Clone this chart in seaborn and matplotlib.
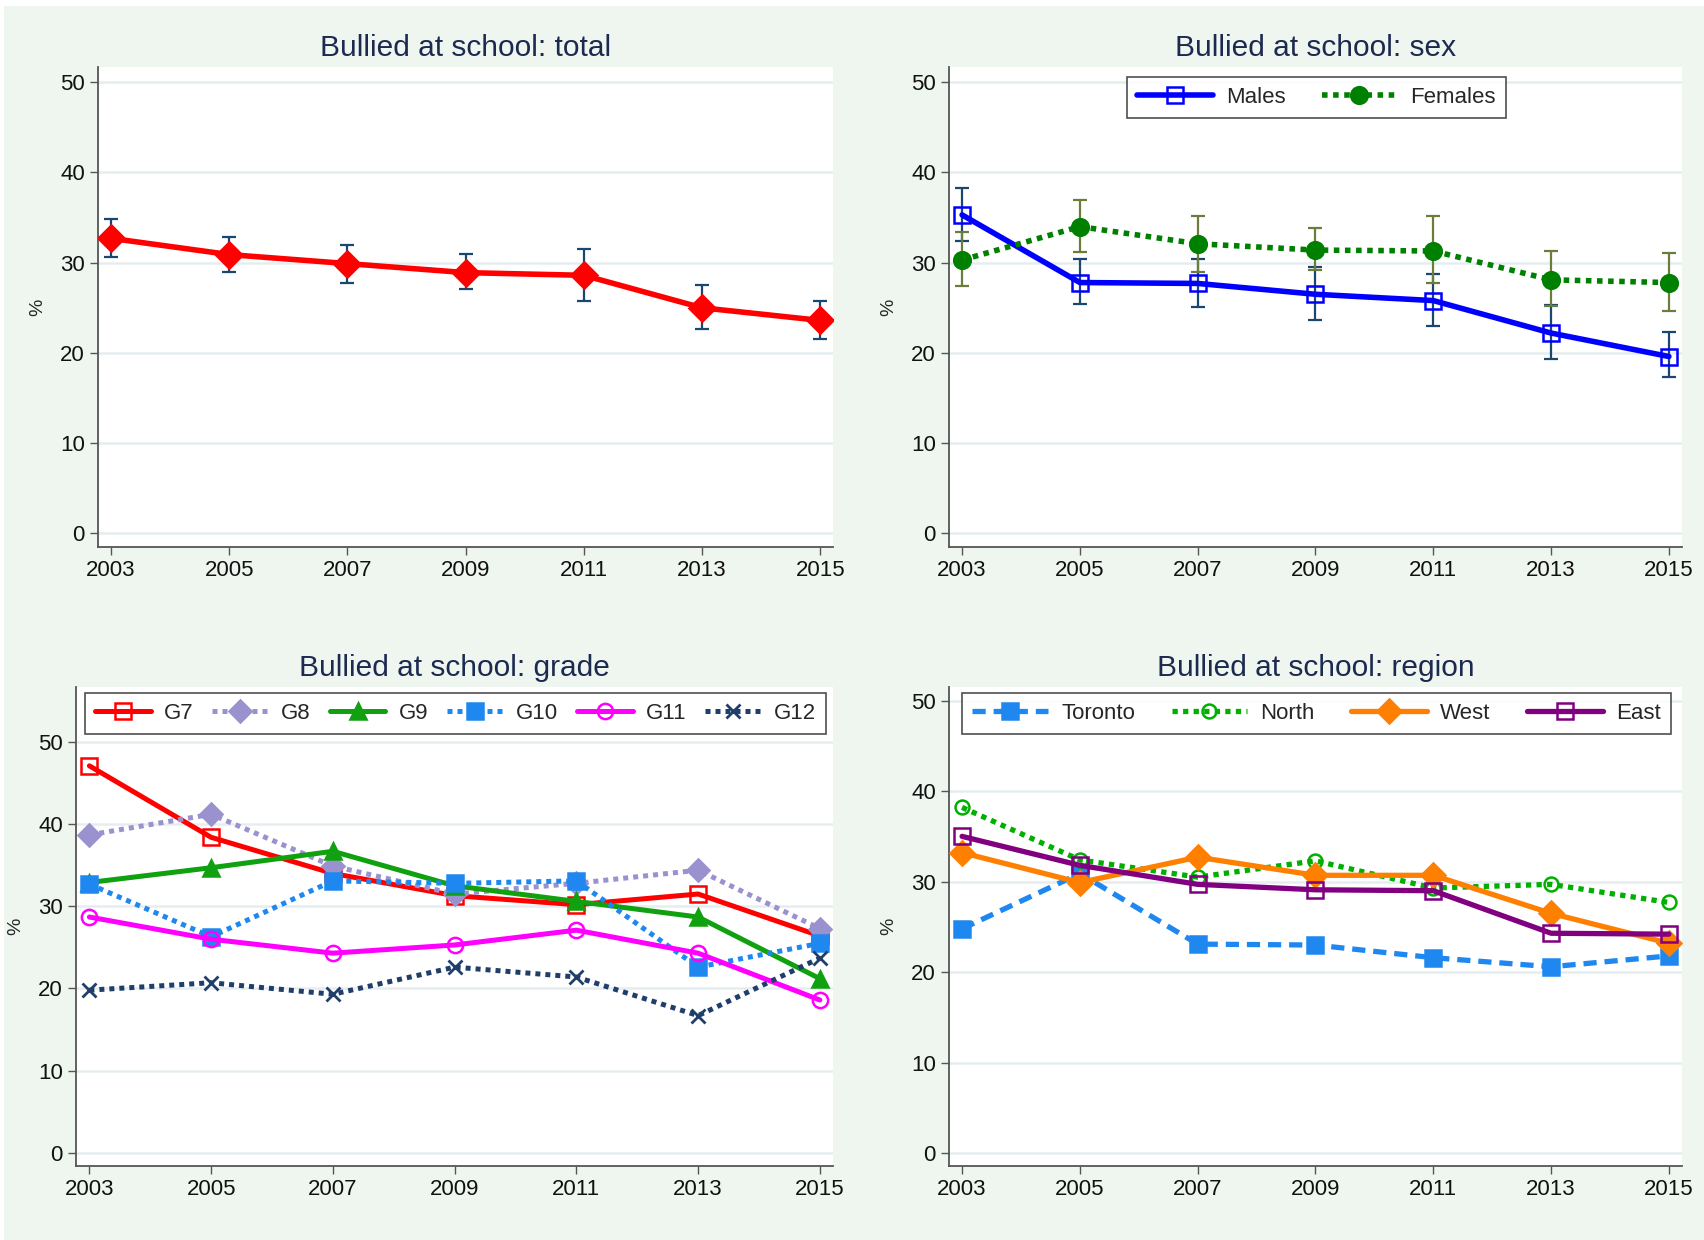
import numpy as np
import pandas as pd
import matplotlib.pyplot as plt
import seaborn as sns
from matplotlib.patches import Rectangle

years = [2003, 2005, 2007, 2009, 2011, 2013, 2015]

# total, with CI
total = [32.7, 30.9, 29.9, 28.9, 28.6, 25.0, 23.6]
total_lo = [30.6, 29.0, 27.8, 27.1, 25.8, 22.7, 21.5]
total_hi = [34.9, 32.8, 32.0, 31.0, 31.5, 27.5, 25.8]

# sex
males = [35.3, 27.8, 27.7, 26.5, 25.8, 22.2, 19.6]
males_lo = [32.4, 25.4, 25.1, 23.7, 23.0, 19.3, 17.3]
males_hi = [38.3, 30.4, 30.4, 29.5, 28.8, 25.3, 22.3]
females = [30.3, 34.0, 32.1, 31.4, 31.3, 28.1, 27.8]
females_lo = [27.4, 31.2, 29.0, 29.2, 27.7, 25.2, 24.7]
females_hi = [33.4, 37.0, 35.2, 33.8, 35.2, 31.3, 31.1]

# grade
g7 = [47.1, 38.4, 34.0, 31.3, 30.2, 31.5, 26.4]
g8 = [38.7, 41.2, 34.9, 31.5, 32.8, 34.4, 27.3]
g9 = [32.9, 34.7, 36.7, 32.5, 30.6, 28.7, 21.2]
g10 = [32.7, 26.3, 33.1, 32.8, 33.1, 22.6, 25.5]
g11 = [28.7, 26.0, 24.3, 25.3, 27.1, 24.3, 18.6]
g12 = [19.8, 20.7, 19.3, 22.6, 21.4, 16.7, 23.7]

# region
toronto = [24.8, 30.9, 23.1, 23.0, 21.6, 20.6, 21.8]
north = [38.2, 32.4, 30.5, 32.3, 29.3, 29.7, 27.7]
west = [33.2, 29.9, 32.7, 30.7, 30.7, 26.5, 23.2]
east = [35.0, 31.8, 29.7, 29.1, 29.0, 24.3, 24.2]

BG = '#eff6f0'
NAVY = '#1a476f'
OLIVE = '#6a7d3a'
TITLE_C = '#1c2a50'

sns.set_style("white")
plt.rcParams['font.family'] = ['Liberation Sans', 'DejaVu Sans']

fig = plt.figure(figsize=(17.04, 12.4), dpi=100, facecolor='white')
fig.patches.append(Rectangle((4 / 1704, 0), 1, 1 - 6 / 1240, transform=fig.transFigure,
                             facecolor=BG, edgecolor='none', zorder=-10))

ax_tl = fig.add_axes([0.0575, 0.559, 0.4315, 0.387])
ax_tr = fig.add_axes([0.557, 0.559, 0.430, 0.387])
ax_bl = fig.add_axes([0.0446, 0.0597, 0.4444, 0.3863])
ax_br = fig.add_axes([0.557, 0.0597, 0.430, 0.3863])


def series(ax, vals, color, ls, marker, ms, label=None, mfc=None, lw=4, mew=1.8):
    kw = dict(color=color, linestyle=ls, marker=marker, markersize=ms, linewidth=lw,
              markeredgecolor=color, markerfacecolor=mfc if mfc is not None else color,
              markeredgewidth=mew, zorder=3)
    if label:
        kw['label'] = label
    sns.lineplot(x=years, y=vals, ax=ax, **kw)


def ci(ax, vals, lo, hi, color):
    v = np.array(vals)
    ax.errorbar(years, v, yerr=[v - np.array(lo), np.array(hi) - v], fmt='none',
                ecolor=color, elinewidth=1.6, capsize=5, capthick=1.6, zorder=2,
                label='_nolegend_')


def style(ax, title, ylim):
    ax.set_facecolor('white')
    ax.set_xlim(2002.78, 2015.22)
    ax.set_ylim(*ylim)
    ax.set_xticks(years)
    ax.set_yticks([0, 10, 20, 30, 40, 50])
    ax.yaxis.grid(True, color='#e6edf1', linewidth=1.8, zorder=0)
    ax.set_axisbelow(True)
    for s in ['top', 'right']:
        ax.spines[s].set_visible(False)
    for s in ['left', 'bottom']:
        ax.spines[s].set_color('#555555')
        ax.spines[s].set_linewidth(1.3)
    ax.tick_params(axis='both', direction='out', length=6, width=1, color='#555555',
                   labelsize=16, labelcolor='#111111', left=True, bottom=True)
    ax.set_xlabel('')
    ax.set_ylabel('%', fontsize=14, labelpad=10)
    ax.set_title(title, fontsize=21.5, color=TITLE_C, pad=8)


def legend(ax, ncol, bbox, hl):
    lg = ax.legend(loc='upper left', bbox_to_anchor=bbox, mode='expand', ncol=ncol,
                   fontsize=16, frameon=True, fancybox=False, edgecolor='#222222',
                   handlelength=hl, borderpad=0.45, columnspacing=0.8, handletextpad=0.6,
                   borderaxespad=0)
    lg.get_frame().set_linewidth(1.2)
    return lg


# total
ci(ax_tl, total, total_lo, total_hi, NAVY)
series(ax_tl, total, '#ff0000', '-', 'D', 13)
style(ax_tl, 'Bullied at school: total', (-1.5, 51.7))

# sex
ci(ax_tr, males, males_lo, males_hi, NAVY)
ci(ax_tr, females, females_lo, females_hi, OLIVE)
series(ax_tr, males, '#0000ff', '-', 's', 12, label='Males', mfc='none')
series(ax_tr, females, '#008000', (0, (1, 1)), 'o', 12, label='Females')
style(ax_tr, 'Bullied at school: sex', (-1.5, 51.7))
legend(ax_tr, 2, (0.243, 0.902, 0.517, 0.077), 3.4)

# grade
series(ax_bl, g7, '#ff0000', '-', 's', 11, label='G7', mfc='none', lw=3.6)
series(ax_bl, g8, '#9a92cf', (0, (1, 1)), 'D', 11, label='G8', lw=3.6)
series(ax_bl, g9, '#10a010', '-', '^', 11, label='G9', lw=3.6)
series(ax_bl, g10, '#1e88f0', (0, (1, 1)), 's', 11, label='G10', lw=3.6)
series(ax_bl, g11, '#ff00ff', '-', 'o', 11, label='G11', mfc='none', lw=3.6)
series(ax_bl, g12, '#1f3f6a', (0, (1, 1)), 'x', 10, label='G12', lw=3.6, mew=2)
style(ax_bl, 'Bullied at school: grade', (-1.6, 56.7))
legend(ax_bl, 6, (0.012, 0.904, 0.979, 0.083), 2.5)

# region
series(ax_br, toronto, '#1e88f0', (0, (2.5, 1.5)), 's', 12, label='Toronto', lw=3.8)
series(ax_br, north, '#00b000', (0, (1, 1)), 'o', 10, label='North', mfc='none', lw=3.8)
series(ax_br, west, '#ff8000', '-', 'D', 12, label='West', lw=3.8)
series(ax_br, east, '#800080', '-', 's', 12, label='East', mfc='none', lw=3.8)
style(ax_br, 'Bullied at school: region', (-1.4, 51.5))
legend(ax_br, 4, (0.018, 0.904, 0.967, 0.083), 3.4)

fig.savefig('out.png', dpi=100, facecolor=fig.get_facecolor())
